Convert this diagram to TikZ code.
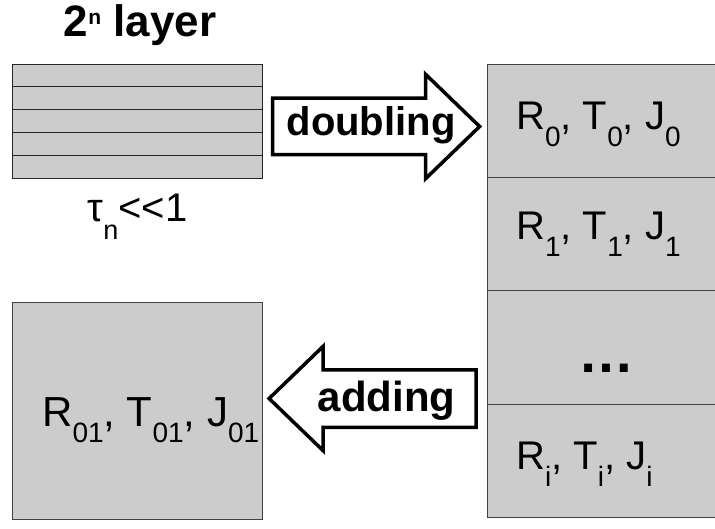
\documentclass[tikz,border=0pt]{standalone}
\usepackage{fontspec}
\setmainfont{Liberation Sans}
\usepackage{xcolor}
\usepackage{tikz}
\usetikzlibrary{shapes,shapes.arrows,positioning}

\definecolor{cellgray}{HTML}{CCCCCC}
\newcommand{\lowsub}[2][17pt]{\raisebox{-#1}{\fontsize{28}{28}\selectfont #2}}

\begin{document}
\begin{tikzpicture}[x=1pt, y=-1pt,
    layer/.style={draw=black!85, fill=cellgray, line width=0.8pt, minimum width=250pt, minimum height=22.8pt, inner sep=0pt, outer sep=0pt},
    cell/.style={draw=black!75, fill=cellgray, line width=0.8pt, minimum width=230pt, minimum height=113.4pt, inner sep=0pt, outer sep=0pt},
    result/.style={draw=black!75, fill=cellgray, line width=0.8pt, minimum width=250pt, minimum height=217pt, inner sep=0pt, outer sep=0pt},
    blockarrow/.style={single arrow, draw=black, fill=white, line width=3.5pt, inner xsep=0pt, outer sep=0pt, minimum height=207pt, single arrow tip angle=88},
    rtext/.style={anchor=base west, inner sep=0pt, font=\fontsize{40}{42}\selectfont},
    bold/.style={anchor=base, inner sep=0pt, font=\bfseries\fontsize{42}{44}\selectfont}
]
\useasboundingbox (0,0) rectangle (715,529);

% thin layer
\node[bold, font=\bfseries\fontsize{44}{46}\selectfont] (title) at (140,37) {2\raisebox{12pt}{\fontsize{21}{21}\selectfont n} layer};
\node[layer] (l1) at (137,75.4) {};
\node[layer, below=0pt of l1] (l2) {};
\node[layer, below=0pt of l2] (l3) {};
\node[layer, below=0pt of l3] (l4) {};
\node[layer, below=0pt of l4] (l5) {};
\node[rtext, anchor=base] (tau) at (137.5,222) {τ\raisebox{-18pt}{\fontsize{27}{27}\selectfont n}<{}<{}1};

% doubling
\node[blockarrow, inner ysep=26.5pt, single arrow head extend=24pt] (dbl) at (361.5,126.5) {};
\node[bold, font=\bfseries\fontsize{40}{42}\selectfont] (dbltxt) at (371,136) {doubling};

% stack of doubled layers
\node[cell] (c0) at (602,120.7) {};
\node[cell, below=0pt of c0] (c1) {};
\node[cell, below=0pt of c1] (c2) {};
\node[cell, below=0pt of c2] (c3) {};
\node[rtext] (t0) at (516,129.5) {R\lowsub{0}, T\lowsub{0}, J\lowsub{0}};
\node[rtext] (t1) at (516,240) {R\lowsub{1}, T\lowsub{1}, J\lowsub{1}};
\node[bold, font=\bfseries\fontsize{56}{58}\selectfont] (t2) at (606.5,372.7) {…};
\node[rtext] (t3) at (516,469.5) {R\lowsub{i}, T\lowsub{i}, J\lowsub{i}};

% adding
\node[blockarrow, shape border rotate=180, inner ysep=27pt, single arrow head extend=23.5pt] (add) at (387.5,398.5) {};
\node[bold] (addtxt) at (386.5,411.7) {adding};

% result
\node[result] (res) at (137,410.5) {};
\node[rtext, font=\fontsize{42}{44}\selectfont] (rtxt) at (42,426.7) {R\lowsub[16pt]{01}, T\lowsub[16pt]{01}, J\lowsub[16pt]{01}};

\end{tikzpicture}
\end{document}
